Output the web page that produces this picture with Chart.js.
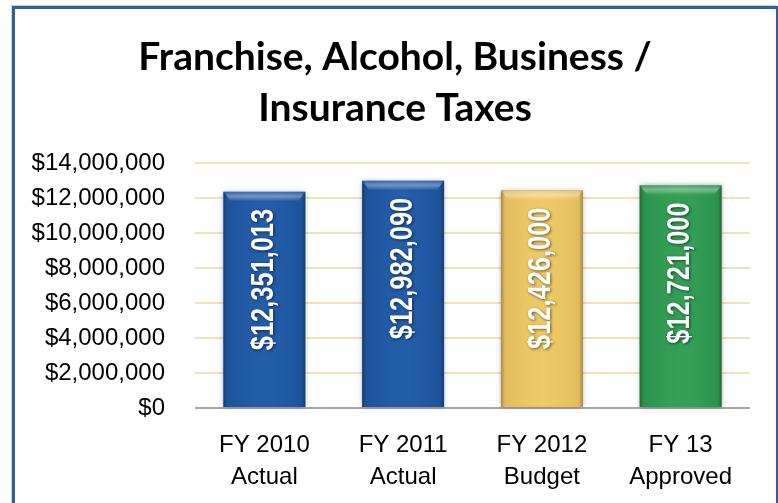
<!DOCTYPE html>
<html>
<head>
<meta charset="utf-8">
<script src="https://cdn.jsdelivr.net/npm/chart.js@4/dist/chart.umd.min.js"></script>
<style>
  html, body { margin: 0; padding: 0; background: #fff; overflow: hidden; }
  #wrap { position: relative; width: 778px; height: 503px; }
  #frame {
    position: absolute; left: 12px; top: 6px; width: 761px; height: 520px;
    border-top: 3px solid #2F5F9F; border-left: 3px solid #2F5F9F; border-right: 2px solid #2F5F9F;
    box-shadow: -1px -1px 0 #C9D3E0;
    pointer-events: none;
  }
  canvas { position: absolute; left: 0; top: 0; }
</style>
</head>
<body>
<div id="wrap">
  <canvas id="c" width="778" height="503"></canvas>
  <div id="frame"></div>
</div>
<script>
// Revenue by fiscal year
const categories = [['FY 2010', 'Actual'], ['FY 2011', 'Actual'], ['FY 2012', 'Budget'], ['FY 13', 'Approved']];
const amounts = [12351013, 12982090, 12426000, 12721000];
const barColors = ['#1D58A6', '#1D58A6', '#EEC862', '#2E9C52'];
const yTicks = [0, 2000000, 4000000, 6000000, 8000000, 10000000, 12000000, 14000000];
const titleLines = ['Franchise, Alcohol, Business /', 'Insurance Taxes'];

const money = v => '$' + Number(v).toLocaleString('en-US');

// Two-line heading, centred over the whole frame
const heading = {
  id: 'heading',
  afterDraw(chart) {
    const ctx = chart.ctx;
    ctx.save();
    ctx.font = 'bold 39px Lato, "Liberation Sans", sans-serif';
    ctx.fillStyle = '#000';
    ctx.textAlign = 'center';
    ctx.textBaseline = 'middle';
    titleLines.forEach((line, i) => ctx.fillText(line, 395, 57 + i * 51));
    ctx.restore();
  }
};

// Soft halo behind each bar, then bevel shading over it
const bevel = {
  id: 'bevel',
  beforeDatasetsDraw(chart) {
    const ctx = chart.ctx;
    chart.getDatasetMeta(0).data.forEach((bar) => {
      const { x, y, base, width } = bar.getProps(['x', 'y', 'base', 'width'], true);
      ctx.save();
      ctx.shadowColor = 'rgba(0,0,0,0.35)';
      ctx.shadowBlur = 5;
      ctx.fillStyle = '#888';
      ctx.fillRect(x - width / 2, y, width, base - y);
      ctx.restore();
    });
  },
  afterDatasetsDraw(chart) {
    const ctx = chart.ctx;
    chart.getDatasetMeta(0).data.forEach((bar) => {
      const { x, y, base, width } = bar.getProps(['x', 'y', 'base', 'width'], true);
      const l = x - width / 2, r = x + width / 2;
      ctx.save();
      const g = ctx.createLinearGradient(l, 0, r, 0);
      g.addColorStop(0, 'rgba(0,0,0,0.30)');
      g.addColorStop(0.05, 'rgba(0,0,0,0.06)');
      g.addColorStop(0.5, 'rgba(255,255,255,0.03)');
      g.addColorStop(0.95, 'rgba(0,0,0,0.06)');
      g.addColorStop(1, 'rgba(0,0,0,0.30)');
      ctx.fillStyle = g;
      ctx.fillRect(l, y, width, base - y);
      // top bevel
      const t = ctx.createLinearGradient(0, y, 0, y + 9);
      t.addColorStop(0, 'rgba(255,255,255,0.10)');
      t.addColorStop(0.5, 'rgba(255,255,255,0.35)');
      t.addColorStop(1, 'rgba(255,255,255,0.05)');
      ctx.beginPath();
      ctx.moveTo(l, y); ctx.lineTo(r, y); ctx.lineTo(r - 7, y + 9); ctx.lineTo(l + 7, y + 9); ctx.closePath();
      ctx.fillStyle = t;
      ctx.fill();
      ctx.restore();
    });
  }
};

// Rotated value labels inside the bars, in a condensed bold face
const valueLabels = {
  id: 'valueLabels',
  afterDatasetsDraw(chart) {
    const ctx = chart.ctx;
    const ds = chart.data.datasets[0];
    chart.getDatasetMeta(0).data.forEach((bar, i) => {
      const { x, y } = bar.getProps(['x', 'y'], true);
      ctx.save();
      ctx.translate(x, y + 17);
      ctx.rotate(-Math.PI / 2);
      ctx.scale(0.82, 1);
      ctx.font = 'bold 31px "Liberation Sans", sans-serif';
      ctx.textAlign = 'right';
      ctx.textBaseline = 'middle';
      ctx.shadowColor = 'rgba(0,0,0,0.55)';
      ctx.shadowBlur = 3;
      ctx.shadowOffsetX = 1;
      ctx.shadowOffsetY = 1;
      ctx.fillStyle = '#FFFFFF';
      ctx.fillText(money(ds.data[i]), 0, 0);
      ctx.restore();
    });
  }
};

new Chart(document.getElementById('c'), {
  type: 'bar',
  data: {
    labels: categories,
    datasets: [{
      data: amounts,
      backgroundColor: barColors,
      borderWidth: 0,
      barPercentage: 0.59,
      categoryPercentage: 1.0
    }]
  },
  options: {
    responsive: false,
    animation: false,
    layout: { padding: { left: 0, right: 28, top: 163, bottom: 0 } },
    plugins: {
      legend: { display: false },
      tooltip: { enabled: false },
      title: { display: false }
    },
    scales: {
      x: {
        grid: { display: false },
        border: { display: false },
        ticks: {
          color: '#000',
          padding: 13,
          maxRotation: 0,
          font: { family: '"Liberation Sans", sans-serif', size: 24, lineHeight: 1.333 }
        },
        afterFit(scale) { scale.height = 95; }
      },
      y: {
        min: 0,
        max: 14000000,
        afterBuildTicks(scale) { scale.ticks = yTicks.map(v => ({ value: v })); },
        grid: {
          drawTicks: false,
          lineWidth: 2,
          color: (c) => c.tick && c.tick.value === 0 ? '#A6A6A6' : '#F1DFB5'
        },
        border: { display: false },
        ticks: {
          color: '#000',
          padding: 30,
          font: { family: '"Liberation Sans", sans-serif', size: 24 },
          callback: (v) => money(v)
        },
        afterFit(scale) { scale.width = 195; }
      }
    }
  },
  plugins: [bevel, valueLabels, heading]
});
</script>
</body>
</html>
